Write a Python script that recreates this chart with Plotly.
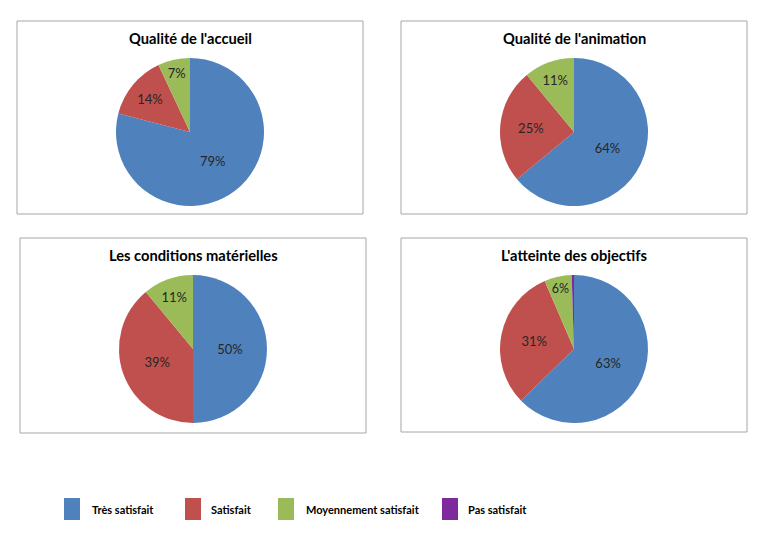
import plotly.graph_objects as go

# categories & colours
categories = ["Très satisfait", "Satisfait", "Moyennement satisfait", "Pas satisfait"]
colors = ["#4F81BD", "#C0504D", "#9BBB59", "#7F2A9C"]

# one pie per question
titles = ["Qualité de l'accueil", "Qualité de l'animation",
          "Les conditions matérielles", "L'atteinte des objectifs"]
accueil = [79, 14, 7, 0]
animation = [64, 25, 11, 0]
conditions = [50, 39, 11, 0]
objectifs = [63, 31, 6, 0.5]
labels_accueil = ["79%", "14%", "7%", ""]
labels_animation = ["64%", "25%", "11%", ""]
labels_conditions = ["50%", "39%", "11%", ""]
labels_objectifs = ["63%", "31%", "6%", ""]

W, H = 769, 550
OFF = 8  # page body margin


def px_x(x):
    return (x - OFF) / W


def px_y(y):
    return 1 - (y - OFF) / H


# pixel layout of each panel: box (x0, y0, x1, y1), pie centre, title y
panels = [
    dict(box=(17, 21, 363, 214), c=(190, 132), ty=38),
    dict(box=(401, 21, 747, 214), c=(574, 132), ty=38),
    dict(box=(20, 238, 366, 433), c=(193, 349), ty=255),
    dict(box=(401, 238, 747, 432), c=(574, 349), ty=255),
]
R = 74

series = [accueil, animation, conditions, objectifs]
texts = [labels_accueil, labels_animation, labels_conditions, labels_objectifs]

fig = go.Figure()
shapes = []
annotations = []

for vals, txt, title, p in zip(series, texts, titles, panels):
    cx, cy = p["c"]
    fig.add_trace(go.Pie(
        labels=categories,
        values=vals,
        text=txt,
        textinfo="text",
        textposition="inside",
        insidetextorientation="horizontal",
        sort=False,
        direction="clockwise",
        rotation=0,
        marker=dict(colors=colors, line=dict(color="white", width=0)),
        textfont=dict(family="Lato", size=13, color="#262626"),
        domain=dict(x=[px_x(cx - R), px_x(cx + R)], y=[px_y(cy + R), px_y(cy - R)]),
        showlegend=False,
        hoverinfo="label+percent",
    ))
    x0, y0, x1, y1 = p["box"]
    shapes.append(dict(type="rect", xref="paper", yref="paper",
                       x0=px_x(x0), x1=px_x(x1), y0=px_y(y1), y1=px_y(y0),
                       line=dict(color="#A6A6A6", width=1), layer="below"))
    annotations.append(dict(text="<b>" + title + "</b>", xref="paper", yref="paper",
                            x=px_x((x0 + x1) / 2), y=px_y(p["ty"]),
                            xanchor="center", yanchor="middle", showarrow=False,
                            font=dict(family="Lato", size=14.7, color="black")))

# legend drawn by hand: swatch x, text x (pixels)
legend_sq_x = [64, 185, 278, 442]
legend_txt_x = [90, 209, 304, 466]
for cat, col, sx, tx in zip(categories, colors, legend_sq_x, legend_txt_x):
    shapes.append(dict(type="rect", xref="paper", yref="paper",
                       x0=px_x(sx), x1=px_x(sx + 16), y0=px_y(520), y1=px_y(498),
                       fillcolor=col, line=dict(width=0)))
    annotations.append(dict(text="<b>" + cat + "</b>", xref="paper", yref="paper",
                            x=px_x(tx), y=px_y(509), xanchor="left", yanchor="middle",
                            showarrow=False,
                            font=dict(family="Lato", size=11, color="black")))

fig.update_layout(
    width=W, height=H,
    margin=dict(l=0, r=0, t=0, b=0),
    paper_bgcolor="white",
    plot_bgcolor="white",
    shapes=shapes,
    annotations=annotations,
)

fig.write_html("out.html")
